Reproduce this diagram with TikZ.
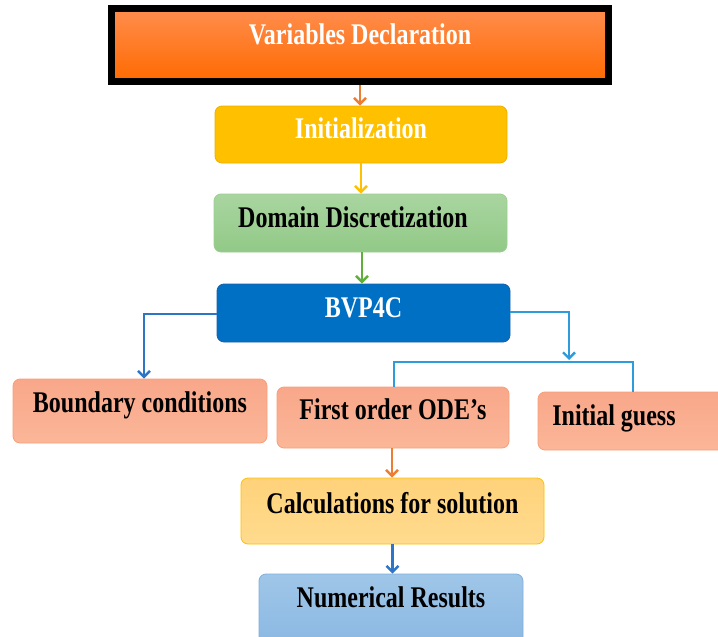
\documentclass[tikz,border=0pt]{standalone}
\usepackage{fontspec}
\setmainfont{Liberation Serif}[FakeStretch=0.8]
\usetikzlibrary{arrows.meta}
\definecolor{vdtop}{HTML}{FF8D4E}
\definecolor{vdbot}{HTML}{FF6A00}
\definecolor{initc}{HTML}{FFC000}
\definecolor{initb}{HTML}{EDB000}
\definecolor{domtop}{HTML}{A9D5A0}
\definecolor{dombot}{HTML}{92C987}
\definecolor{domb}{HTML}{9BCF90}
\definecolor{bvpc}{HTML}{0070C4}
\definecolor{bvpb}{HTML}{1C5FA6}
\definecolor{saltop}{HTML}{F9A78A}
\definecolor{salbot}{HTML}{FBB698}
\definecolor{salb}{HTML}{F6A07A}
\definecolor{caltop}{HTML}{FFD27A}
\definecolor{calbot}{HTML}{FFDB8E}
\definecolor{numtop}{HTML}{9FC6E8}
\definecolor{numbot}{HTML}{88B6E2}
\definecolor{numb}{HTML}{80AEDC}
\definecolor{arrorange}{HTML}{ED7D31}
\definecolor{arrgold}{HTML}{FFC000}
\definecolor{arrgreen}{HTML}{5FAF3A}
\definecolor{arrblue}{HTML}{2E75C6}
\definecolor{arrlblue}{HTML}{2E9BDA}
\tikzset{
  txt/.style={font=\fontsize{30}{36}\selectfont\bfseries, text height=20pt, inner sep=0pt},
  box/.style={txt, rounded corners=7pt, line width=0.8pt},
  salbox/.style={box, draw=salb, top color=saltop, bottom color=salbot},
  conn/.style={line width=2.4pt, -{Straight Barb[length=6pt,width=12pt]}},
  plain/.style={line width=2.6pt},
}
\begin{document}
\begin{tikzpicture}[x=1pt,y=-1pt]
\useasboundingbox (0,0) rectangle (718,637);
% nodes
\node[txt, draw=black, line width=7.5pt, top color=vdtop, bottom color=vdbot,
      minimum width=497pt, minimum height=73pt, text depth=20pt, text=white]
      (var) at (360,45) {Variables Declaration};
\node[box, draw=initb, fill=initc, minimum width=292pt, minimum height=57pt,
      text depth=13pt, text=white] (init) at (361,134.5) {Initialization};
\node[box, draw=domb, top color=domtop, bottom color=dombot, minimum width=293pt,
      minimum height=58pt, text depth=12pt] (dom) at (360.5,223) {Domain Discretization\hspace*{15pt}};
\node[box, draw=bvpb, fill=bvpc, minimum width=293pt, minimum height=58pt,
      text depth=11pt, text=white] (bvp) at (363.5,313) {BVP4C};
\node[salbox, minimum width=254pt, minimum height=64pt, text depth=17pt]
      (bc) at (140,411) {Boundary conditions};
\node[salbox, minimum width=232pt, minimum height=61pt, text depth=16pt]
      (fo) at (393,417.5) {First order ODE’s};
\node[salbox, minimum width=200pt, minimum height=58pt, text depth=12pt]
      (ig) at (638,421) {Initial guess\hspace*{48pt}};
\node[box, draw=initc, top color=caltop, bottom color=calbot, minimum width=303pt,
      minimum height=66pt, text depth=16pt] (calc) at (392.5,511) {Calculations for solution};
\node[box, draw=numb, top color=numtop, bottom color=numbot, minimum width=264pt,
      minimum height=80pt, text depth=34pt] (num) at (391,614) {Numerical Results};
% junction points
\coordinate (rj) at (569,360);
\coordinate (hl) at (394,362);
\coordinate (hr) at (633,362);
% connectors
\draw[conn, arrorange] (var.south) -- (var.south |- init.north);
\draw[conn, arrgold] (init.south) -- (init.south |- dom.north);
\draw[conn, arrgreen] ([xshift=1.5pt]dom.south) -- ([xshift=1.5pt]dom.south |- bvp.north);
\draw[conn, arrblue] ([yshift=-1pt]bvp.west) -| ([xshift=4pt]bc.north);
\draw[conn, arrlblue] ([yshift=1pt]bvp.east) -| (rj);
\draw[plain, arrlblue] (hl |- fo.north) -- (hl) -- (hr) -- (hr |- ig.north);
\draw[conn, arrorange] ([xshift=-1pt]fo.south) -- ([xshift=-1pt]fo.south |- calc.north);
\draw[conn, arrblue] (calc.south) -- (calc.south |- num.north);
\end{tikzpicture}
\end{document}
